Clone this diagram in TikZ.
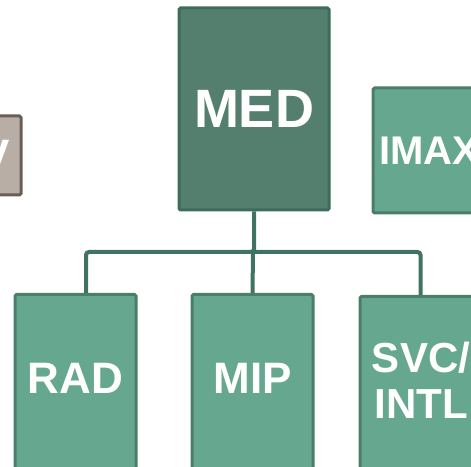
\documentclass[tikz,border=0pt]{standalone}
\usepackage{fontspec}
\setmainfont{Liberation Sans}
\usetikzlibrary{positioning}

\definecolor{topfill}{HTML}{547F6E}
\definecolor{topline}{HTML}{3E6C5B}
\definecolor{subfill}{HTML}{66A88F}
\definecolor{subline}{HTML}{4A7E69}
\definecolor{greyfill}{HTML}{B9AEA5}
\definecolor{greyline}{HTML}{695E56}
\definecolor{wire}{HTML}{3F7461}

\begin{document}
\begin{tikzpicture}[x=1pt, y=1pt,
		head/.style = {rectangle, draw=topline, fill=topfill, line width=3pt, rounded corners=1.5pt,
			minimum width=150pt, minimum height=202pt, text=white, font=\bfseries\fontsize{54}{60}\selectfont},
		side/.style = {rectangle, draw=subline, fill=subfill, line width=3pt, rounded corners=1.5pt,
			minimum width=112pt, minimum height=125pt, text=white, font=\bfseries\fontsize{40}{44}\selectfont},
		grey/.style = {rectangle, draw=greyline, fill=greyfill, line width=3pt, rounded corners=1.5pt,
			minimum width=51pt, minimum height=79pt, text=white, font=\bfseries\fontsize{44}{48}\selectfont},
		unit/.style = {rectangle, draw=subline, fill=subfill, line width=3pt, rounded corners=1.5pt,
			minimum width=121pt, minimum height=220pt, anchor=north},
		tag/.style = {text=white, align=center, font=\bfseries\fontsize{44}{46}\selectfont},
		link/.style = {draw=wire, line width=4pt, rounded corners=3pt}
		]
		\useasboundingbox (0,0) rectangle (471,466);
		\clip (0,0) rectangle (471,466);
		
		%Top row
		\node[grey]	(dev)	at	(-4.5, 310.5)	{V};
		\node[head]	(med)	at	(254, 357)		{MED};
		\node[side]	(imax)	at	(429, 315.5)	{IMAX};
		
		%Units
		\node[unit]	(rad)	at	(75.5, 173)		{};
		\node[unit]	(mip)	at	(252.5, 173)	{};
		\node[unit]	(svc)	at	(420.5, 171)	{};
		\node[tag]	(radtxt)	at	(75.5, 88)	{RAD};
		\node[tag]	(miptxt)	at	(252.5, 88)	{MIP};
		\node[tag, font=\bfseries\fontsize{42}{46}\selectfont]	(svctxt)	at	(421, 86)	{SVC/\\INTL};
		
		%Lines
		\coordinate (bus) at (253, 214);
		\draw[link]	(med.south)	|-	([xshift=10.5pt]rad.north |- bus)	--	([xshift=10.5pt]rad.north);
		\draw[link]	(bus)	-|	(svc.north);
		\draw[link]	(bus)	--	(mip.north);
	\end{tikzpicture}
\end{document}
